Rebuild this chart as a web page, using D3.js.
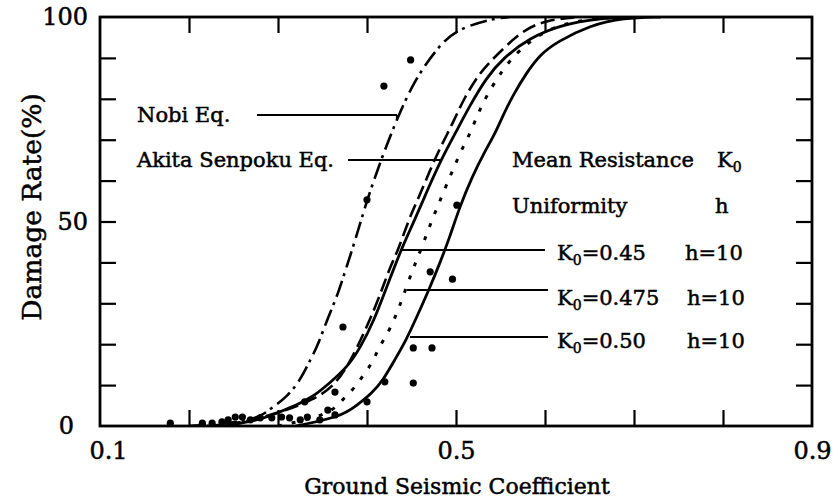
<!DOCTYPE html>
<html><head><meta charset="utf-8">
<script src="https://cdn.jsdelivr.net/npm/d3@7/dist/d3.min.js"></script>
<style>body{margin:0;background:#fff}svg{display:block}</style>
</head><body>
<svg id="chart" width="837" height="500"></svg>
<script>
// ---- data ----
const xTicks = [0.1,0.2,0.3,0.4,0.5,0.6,0.7,0.8,0.9];
const xTickLabels = ["0.1","0.5","0.9"];
const yTicks = [0,10,20,30,40,50,60,70,80,90,100];
const yTickLabels = ["0","50","100"];

// Nobi Eq. (dash-dot)
const nobi = [[0.20,0],[0.24,0.5],[0.26,1.2],[0.280,2.2],[0.294,4.6],[0.310,7.1],[0.325,11.2],[0.336,16.1],[0.344,19.3],[0.355,25.9],[0.366,31.5],[0.373,36.2],[0.387,45.5],[0.400,55.3],[0.417,65.8],[0.434,75.3],[0.454,84.8],[0.479,92.4],[0.499,96.8],[0.538,99.5],[0.56,100]];
// Akita Senpoku Eq. (dashed)
const akita = [[0.22,0],[0.26,0.8],[0.283,2.2],[0.310,3.9],[0.339,6.4],[0.362,9.5],[0.381,15.4],[0.405,26.7],[0.418,34],[0.426,38.9],[0.435,43],[0.448,51.1],[0.457,55.3],[0.471,62.6],[0.481,67.5],[0.497,74.3],[0.508,79.7],[0.527,86.6],[0.546,90.7],[0.572,96.3],[0.600,99.3],[0.64,100]];
// K0=0.45 h=10 (solid)
const k045 = [[0.24,0],[0.280,1.5],[0.299,3.2],[0.321,5.1],[0.339,7.1],[0.358,10.5],[0.378,14.4],[0.393,19.3],[0.408,25.9],[0.421,33.3],[0.438,43],[0.452,49.6],[0.468,57.7],[0.483,65],[0.500,71.9],[0.516,78.5],[0.534,85.1],[0.553,90],[0.583,94.9],[0.617,98],[0.66,99.7],[0.707,100]];
// K0=0.475 h=10 (dotted)
const k0475 = [[0.30,0],[0.347,2.2],[0.366,4.6],[0.375,7.1],[0.387,9.5],[0.396,12.5],[0.406,15.4],[0.412,18.6],[0.420,21.5],[0.428,24.7],[0.434,27.9],[0.440,31.3],[0.451,38.1],[0.457,41.1],[0.468,47.4],[0.474,50.9],[0.480,54],[0.486,57.2],[0.493,60.9],[0.499,63.8],[0.506,67.5],[0.515,71.1],[0.524,76],[0.533,80.2],[0.547,85.3],[0.557,88.3],[0.569,91.4],[0.594,96],[0.628,99],[0.684,100]];
// K0=0.50 h=10 (solid)
const k050 = [[0.32,0],[0.370,2.2],[0.389,5.1],[0.406,8.1],[0.418,11.2],[0.431,16.1],[0.444,21],[0.456,26.7],[0.470,33.5],[0.482,39.9],[0.493,46.2],[0.504,53.5],[0.518,60.9],[0.532,67],[0.543,71.1],[0.553,76],[0.564,80.9],[0.580,86.6],[0.594,90.7],[0.613,93.9],[0.651,98],[0.688,99.8],[0.73,100]];
// observed damage rates
const obsX = [0.449,0.419,0.400,0.501,0.496,0.471,0.373,0.452,0.473,0.452,0.420,0.400,0.364,0.330,0.356,0.179,0.215,0.226,0.237,0.244,0.252,0.260,0.269,0.280,0.293,0.304,0.313,0.325,0.333,0.347,0.364];
const obsY = [89.5,83.1,55.3,54.0,35.9,37.7,24.2,19.1,19.1,10.5,10.8,5.9,8.3,5.9,3.9,0.7,0.7,0.7,1.0,1.5,2.2,2.2,1.5,2.0,2.0,2.2,2.0,1.5,2.2,1.5,2.7];

const FONT = "'DejaVu Serif', 'Liberation Serif', serif";
const svg = d3.select("#chart");
const L=100, R=812, T=17, B=426;
const x = d3.scaleLinear().domain([0.1,0.9]).range([L,R]);
const y = d3.scaleLinear().domain([0,100]).range([B,T]);

const g = svg.append("g");
svg.append("clipPath").attr("id","pa").append("rect")
  .attr("x",L).attr("y",T).attr("width",R-L).attr("height",B-T);

// curves
const line = d3.line().x(d=>x(d[0])).y(d=>y(d[1])).curve(d3.curveBasis);
const curves = [
  {d:nobi, dash:"17,5,3,6", w:2.6},
  {d:akita, dash:"14,6", w:2.6},
  {d:k045, dash:null, w:2.8},
  {d:k0475, dash:"4,10", w:3},
  {d:k050, dash:null, w:2.8}
];
const cg = g.append("g").attr("clip-path","url(#pa)");
curves.forEach(c=>{
  cg.append("path").attr("d",line(c.d)).attr("fill","none").attr("stroke","#000")
    .attr("stroke-width",c.w).attr("stroke-dasharray",c.dash);
});

// points
g.append("g").selectAll("circle").data(obsX.map((v,i)=>[v,obsY[i]])).join("circle")
  .attr("cx",d=>x(d[0])).attr("cy",d=>y(d[1])).attr("r",3.6).attr("fill","#000");

// axes (ticks inward)
const fmtX = d => { const s=d3.format(".1f")(d); return xTickLabels.includes(s)?s:""; };
const fmtY = d => { const s=String(d); return yTickLabels.includes(s)?s:""; };
const ax = g.append("g").attr("transform",`translate(0,${B})`)
  .call(d3.axisBottom(x).tickValues(xTicks.slice(1,-1)).tickSize(-16).tickFormat(""));
const axLab = g.append("g").attr("transform",`translate(0,${B})`)
  .call(d3.axisBottom(x).tickValues(xTicks).tickSize(0).tickPadding(16).tickFormat(fmtX));
const axT = g.append("g").attr("transform",`translate(0,${T})`)
  .call(d3.axisTop(x).tickValues(xTicks.slice(1,-1)).tickSize(-16).tickFormat(""));
const ay = g.append("g").attr("transform",`translate(${L},0)`)
  .call(d3.axisLeft(y).tickValues(yTicks.slice(1,-1)).tickSize(-16).tickFormat(""));
const ayLab = g.append("g").attr("transform",`translate(${L},0)`)
  .call(d3.axisLeft(y).tickValues(yTicks).tickSize(0).tickPadding(12).tickFormat(fmtY));
const ayR = g.append("g").attr("transform",`translate(${R},0)`)
  .call(d3.axisRight(y).tickValues(yTicks.slice(1,-1)).tickSize(-16).tickFormat(""));
[ax,axLab,axT,ay,ayLab,ayR].forEach(a=>{
  a.select(".domain").remove();
  a.selectAll(".tick line").attr("stroke","#000").attr("stroke-width",2.2);
  a.selectAll("text").attr("font-family",FONT).attr("font-size",24).attr("fill","#000")
    .attr("stroke","#000").attr("stroke-width",0.5);
});
axLab.selectAll(".tick text").filter(d=>d===0.1).attr("dx",8);
ayLab.selectAll(".tick text").filter(d=>d===0).attr("dx",-14);

// frame
g.append("rect").attr("x",L).attr("y",T).attr("width",R-L).attr("height",B-T)
  .attr("fill","none").attr("stroke","#000").attr("stroke-width",2.8);

// axis titles
g.append("text").attr("x",457).attr("y",494).attr("text-anchor","middle")
  .attr("font-family",FONT).attr("font-size",22).attr("stroke","#000").attr("stroke-width",0.5)
  .text("Ground Seismic Coefficient");
g.append("text").attr("transform",`translate(41,207) rotate(-90)`).attr("text-anchor","middle")
  .attr("font-family",FONT).attr("font-size",26.5).attr("stroke","#000").attr("stroke-width",0.5)
  .text("Damage Rate(%)");

// annotations
function txt(xp,yp,s,fs){ return g.append("text").attr("x",xp).attr("y",yp).attr("font-family",FONT)
  .attr("font-size",fs||21).attr("fill","#000").attr("stroke","#000").attr("stroke-width",0.5).text(s); }
function seg(x1,y1,x2,y2){ g.append("line").attr("x1",x1).attr("y1",y1).attr("x2",x2).attr("y2",y2).attr("stroke","#000").attr("stroke-width",2.2); }
txt(137,122,"Nobi Eq.");
seg(257,115,397,115); seg(397,115,397,119);
txt(137,167,"Akita Senpoku Eq.");
seg(348,160,440,160);
txt(512,167,"Mean Resistance");
function kTxt(xp,yp,rest){
  const t=g.append("text").attr("x",xp).attr("y",yp).attr("font-family",FONT).attr("font-size",21)
    .attr("fill","#000").attr("stroke","#000").attr("stroke-width",0.5);
  t.append("tspan").text("K");
  t.append("tspan").attr("font-size",14).attr("dy",5).text("0");
  t.append("tspan").attr("dy",-5).text(rest);
}
kTxt(717,167,"");
txt(512,213,"Uniformity");
txt(715,213,"h");
kTxt(557,260,"=0.45"); txt(685,260,"h=10");
kTxt(557,305,"=0.475"); txt(687,305,"h=10");
kTxt(557,348,"=0.50"); txt(687,348,"h=10");
seg(400,250,545,250);
seg(407,290,548,290);
seg(410,337,548,337);
</script>
</body></html>
